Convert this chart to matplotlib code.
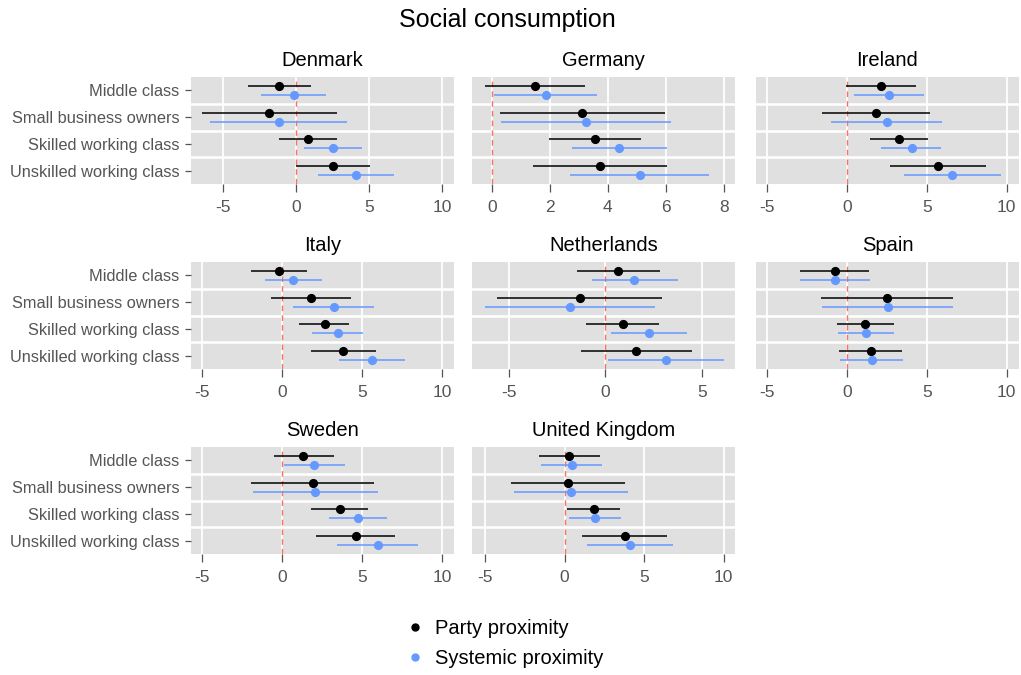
import numpy as np
import matplotlib
matplotlib.use("Agg")
import matplotlib.pyplot as plt
from matplotlib.lines import Line2D

plt.rcParams['font.family'] = ['Liberation Sans', 'DejaVu Sans']

# --- data -------------------------------------------------------------
countries = ["Denmark", "Germany", "Ireland", "Italy",
             "Netherlands", "Spain", "Sweden", "United Kingdom"]
classes = ["Middle class", "Small business owners",
           "Skilled working class", "Unskilled working class"]

# party proximity: estimate, lower, upper (one row per country)
party_est = [[-1.19, -1.83, 0.80, 2.51],
             [1.48, 3.10, 3.56, 3.72],
             [2.11, 1.82, 3.24, 5.69],
             [-0.23, 1.77, 2.65, 3.81],
             [0.65, -1.34, 0.89, 1.60],
             [-0.77, 2.49, 1.15, 1.51],
             [1.31, 1.90, 3.58, 4.58],
             [0.29, 0.21, 1.82, 3.77]]
party_lo = [[-3.33, -6.42, -1.16, -0.02],
            [-0.24, 0.26, 1.98, 1.41],
            [-0.04, -1.55, 1.42, 2.68],
            [-1.98, -0.71, 1.06, 1.81],
            [-1.48, -5.61, -0.98, -1.26],
            [-2.97, -1.61, -0.61, -0.48],
            [-0.54, -1.94, 1.81, 2.10],
            [-1.63, -3.37, 0.15, 1.09]]
party_hi = [[1.00, 2.79, 2.79, 5.07],
            [3.20, 5.97, 5.16, 6.03],
            [4.29, 5.21, 5.06, 8.70],
            [1.56, 4.27, 4.19, 5.88],
            [2.82, 2.94, 2.77, 4.49],
            [1.40, 6.61, 2.91, 3.45],
            [3.21, 5.73, 5.35, 7.06],
            [2.22, 3.77, 3.47, 6.46]]

# systemic proximity
sys_est = [[-0.18, -1.21, 2.51, 4.09],
           [1.85, 3.24, 4.39, 5.10],
           [2.64, 2.47, 4.04, 6.59],
           [0.69, 3.21, 3.46, 5.58],
           [1.50, -1.84, 2.25, 3.13],
           [-0.73, 2.53, 1.19, 1.55],
           [1.98, 2.06, 4.71, 5.96],
           [0.44, 0.40, 1.90, 4.10]]
sys_lo = [[-2.42, -5.89, 0.50, 1.51],
          [0.08, 0.30, 2.76, 2.71],
          [0.44, -0.98, 2.15, 3.54],
          [-1.10, 0.69, 1.88, 3.52],
          [-0.71, -6.23, 0.31, 0.15],
          [-2.93, -1.57, -0.56, -0.44],
          [0.08, -1.83, 2.92, 3.42],
          [-1.49, -3.18, 0.27, 1.40]]
sys_hi = [[2.03, 3.47, 4.52, 6.69],
          [3.63, 6.18, 6.03, 7.49],
          [4.83, 5.94, 5.90, 9.64],
          [2.48, 5.75, 5.06, 7.65],
          [3.73, 2.58, 4.23, 6.11],
          [1.44, 6.65, 2.95, 3.51],
          [3.90, 5.98, 6.52, 8.50],
          [2.36, 4.00, 3.56, 6.82]]

x_limits = [(-7.2, 10.8), (-0.69, 8.39), (-5.71, 10.77), (-5.71, 10.73),
            (-6.9, 6.7), (-5.71, 10.77), (-5.71, 10.73), (-5.82, 10.71)]
x_ticks = [[-5, 0, 5, 10], [0, 2, 4, 6, 8], [-5, 0, 5, 10], [-5, 0, 5, 10],
           [-5, 0, 5], [-5, 0, 5, 10], [-5, 0, 5, 10], [-5, 0, 5, 10]]

# --- styling ----------------------------------------------------------
W, H = 1021, 675
black = "#000000"
blue = "#6699FF"
panel_bg = "#E0E0E0"
tick_col = "#555555"

fig = plt.figure(figsize=(W / 100, H / 100), dpi=100)
fig.patch.set_facecolor("white")

col_left = [191, 472, 756]
col_width = 263
row_top = [77, 262, 447]
row_height = 107

ypos = np.arange(1, len(classes) + 1)
dodge = 0.17

for k, country in enumerate(countries):
    r, c = divmod(k, 3)
    ax = fig.add_axes([col_left[c] / W, (H - row_top[r] - row_height) / H,
                       col_width / W, row_height / H])
    ax.set_facecolor(panel_bg)
    for s in ax.spines.values():
        s.set_visible(False)

    ax.set_xlim(*x_limits[k])
    ax.set_ylim(4.5, 0.5)
    ax.set_xticks(x_ticks[k])
    for xv in x_ticks[k]:
        ax.axvline(xv, color="white", lw=1.3, zorder=0.5)
    for yv in [1.5, 2.5, 3.5]:
        ax.axhline(yv, color="white", lw=1.8, zorder=0.5)
    ax.axvline(0, color="#FF6F61", lw=1.0, ls=(0, (4, 3)), zorder=1)

    # confidence intervals and point estimates
    ax.hlines(ypos - dodge, party_lo[k], party_hi[k], color=black, lw=1.1, zorder=2)
    ax.plot(party_est[k], ypos - dodge, "o", color=black, ms=5.6, zorder=3)
    ax.hlines(ypos + dodge, sys_lo[k], sys_hi[k], color=blue, lw=1.1, zorder=2)
    ax.plot(sys_est[k], ypos + dodge, "o", color=blue, ms=5.6, zorder=3)

    ax.tick_params(axis="x", colors=tick_col, labelsize=12.5, length=5.5, width=0.9, pad=6)
    ax.set_xticklabels([str(v) for v in x_ticks[k]])
    if c == 0:
        ax.set_yticks(ypos)
        ax.set_yticklabels(classes)
        ax.tick_params(axis="y", colors=tick_col, labelsize=11.8, length=4, width=0.9, pad=4.5)
    else:
        ax.set_yticks([])

    ax.set_title(country, fontsize=14.5, color="black", pad=8)

fig.text(0.497, 0.970, "Social consumption", ha="center", va="center", fontsize=18)

handles = [Line2D([], [], marker="o", ls="", color=black, ms=5),
           Line2D([], [], marker="o", ls="", color=blue, ms=5)]
fig.legend(handles, ["Party proximity", "Systemic proximity"],
           loc="center", bbox_to_anchor=(0.494, 0.047), frameon=False,
           fontsize=14.5, handlelength=1.0, handletextpad=0.5, labelspacing=0.55)

fig.savefig("out.png", dpi=100)
